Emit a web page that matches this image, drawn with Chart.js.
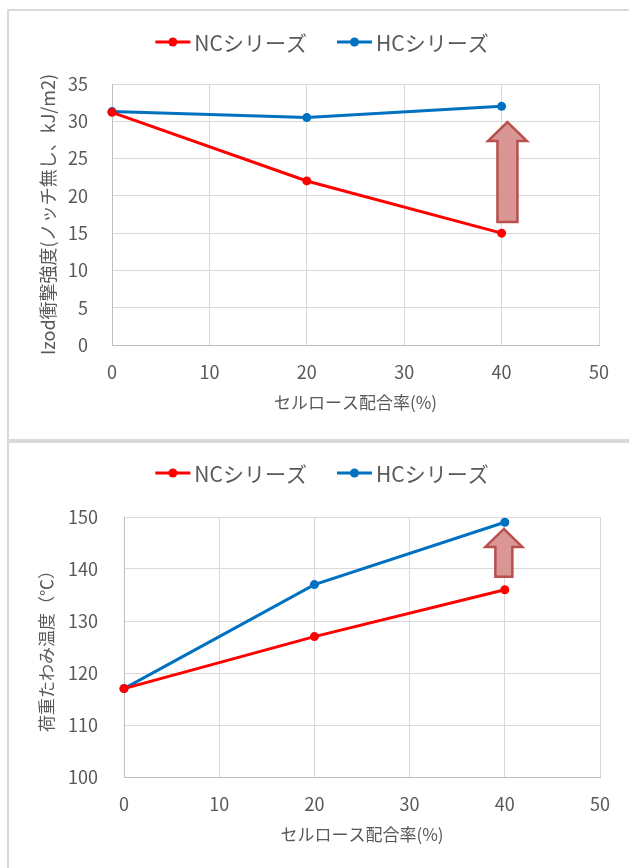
<!DOCTYPE html>
<html lang="ja">
<head>
<meta charset="utf-8">
<script src="https://cdn.jsdelivr.net/npm/chart.js@4.4.1/dist/chart.umd.min.js"></script>
<style>
  html, body { margin: 0; background: #fff; overflow: hidden; }
  .box { position: absolute; left: 7px; width: 640px; border: 2px solid #d9d9d9; box-sizing: border-box; }
  #box1 { top: 9px; height: 432px; }
  #box2 { top: 441px; height: 440px; }
  canvas { position: absolute; left: 0; top: 0; }
</style>
</head>
<body>
<div class="box" id="box1"><canvas id="izod" width="620" height="428"></canvas></div>
<div class="box" id="box2"><canvas id="hdt" width="620" height="436"></canvas></div>
<script>
var cellulose = [0, 20, 40];
var xTicks = [0, 10, 20, 30, 40, 50];
var seriesNames = ["NCシリーズ", "HCシリーズ"];

var izodNC = [31.2, 22, 15];
var izodHC = [31.3, 30.5, 32];
var izodTicks = [0, 5, 10, 15, 20, 25, 30, 35];

var hdtNC = [117, 127, 136];
var hdtHC = [117, 137, 149];
var hdtTicks = [100, 110, 120, 130, 140, 150];

var FONT = "'Noto Sans CJK JP', 'Noto Sans', sans-serif";
var GREY = "#595959";
var RED = "#ff0000";
var BLUE = "#0070c0";

// legend drawn like Excel: short line with a dot, then the name
var lineLegend = {
  id: "lineLegend",
  afterDraw: function(chart, args, o) {
    var ctx = chart.ctx;
    ctx.save();
    ctx.font = o.size + "px " + FONT;
    var items = chart.data.datasets.map(function(ds) {
      return { ds: ds, w: o.lineLen + o.gap + ctx.measureText(ds.label).width };
    });
    var total = o.spacing * (items.length - 1);
    items.forEach(function(it) { total += it.w; });
    var x = o.cx - total / 2;
    items.forEach(function(it) {
      ctx.strokeStyle = it.ds.borderColor;
      ctx.lineWidth = 3;
      ctx.beginPath();
      ctx.moveTo(x, o.y);
      ctx.lineTo(x + o.lineLen, o.y);
      ctx.stroke();
      ctx.fillStyle = it.ds.borderColor;
      ctx.beginPath();
      ctx.arc(x + o.lineLen / 2, o.y, 4.5, 0, Math.PI * 2);
      ctx.fill();
      ctx.fillStyle = GREY;
      ctx.textBaseline = "middle";
      ctx.textAlign = "left";
      ctx.fillText(it.ds.label, x + o.lineLen + o.gap, o.y + 1);
      x += it.w + o.spacing;
    });
    ctx.restore();
  }
};

// block arrow placed in data units
var upArrow = {
  id: "upArrow",
  afterDatasetsDraw: function(chart, args, o) {
    var ctx = chart.ctx;
    var cx = chart.scales.x.getPixelForValue(o.x);
    var tip = chart.scales.y.getPixelForValue(o.to);
    var base = chart.scales.y.getPixelForValue(o.from);
    var hs = o.shaft / 2, hh = o.head / 2;
    ctx.save();
    ctx.beginPath();
    ctx.moveTo(cx, tip);
    ctx.lineTo(cx + hh, tip + o.headLen);
    ctx.lineTo(cx + hs, tip + o.headLen);
    ctx.lineTo(cx + hs, base);
    ctx.lineTo(cx - hs, base);
    ctx.lineTo(cx - hs, tip + o.headLen);
    ctx.lineTo(cx - hh, tip + o.headLen);
    ctx.closePath();
    ctx.fillStyle = "rgb(217,150,148)";
    ctx.fill();
    ctx.lineWidth = 2.5;
    ctx.strokeStyle = "rgb(184,80,77)";
    ctx.stroke();
    ctx.restore();
  }
};

function series(label, color, ys) {
  return {
    label: label,
    data: cellulose.map(function(x, i) { return { x: x, y: ys[i] }; }),
    borderColor: color,
    backgroundColor: color,
    borderWidth: 3,
    pointRadius: 4.5,
    pointHoverRadius: 4.5,
    pointBorderWidth: 0,
    clip: false
  };
}

function makeChart(id, cfg) {
  return new Chart(document.getElementById(id), {
    type: "line",
    data: {
      datasets: [
        series(seriesNames[0], RED, cfg.nc),
        series(seriesNames[1], BLUE, cfg.hc)
      ]
    },
    options: {
      responsive: false,
      animation: false,
      layout: { padding: { left: 0, top: cfg.top, right: cfg.right, bottom: 0 } },
      scales: {
        x: {
          type: "linear",
          min: 0,
          max: 50,
          afterBuildTicks: function(s) { s.ticks = xTicks.map(function(v) { return { value: v }; }); },
          afterFit: function(s) { s.height = cfg.xHeight; },
          grid: { color: "#d9d9d9", drawTicks: false },
          border: { color: "#bfbfbf", width: 1 },
          ticks: { color: GREY, padding: 16, font: { family: FONT, size: 18 } },
          title: {
            display: true,
            text: "セルロース配合率(%)",
            color: GREY,
            font: { family: FONT, size: 17 },
            padding: { top: 0, bottom: cfg.xTitlePad }
          }
        },
        y: {
          min: cfg.ticks[0],
          max: cfg.ticks[cfg.ticks.length - 1],
          afterBuildTicks: function(s) { s.ticks = cfg.ticks.map(function(v) { return { value: v }; }); },
          afterFit: function(s) { s.width = cfg.yWidth; },
          grid: { color: "#d9d9d9", drawTicks: false },
          border: { color: "#bfbfbf", width: 1 },
          ticks: { color: GREY, padding: cfg.yTickPad, font: { family: FONT, size: 18 } },
          title: {
            display: true,
            text: cfg.yTitle,
            color: GREY,
            font: { family: FONT, size: cfg.yTitleSize },
            padding: { top: cfg.yTitlePad, bottom: 0 }
          }
        }
      },
      plugins: {
        legend: { display: false },
        tooltip: { enabled: false },
        lineLegend: { cx: 313, y: cfg.legendY, size: 21, lineLen: 35, gap: 4, spacing: 30 },
        upArrow: cfg.arrow
      }
    },
    plugins: [lineLegend, upArrow]
  });
}

makeChart("izod", {
  nc: izodNC,
  hc: izodHC,
  ticks: izodTicks,
  yTitle: "Izod衝撃強度(ノッチ無し、kJ/m2)",
  yTitleSize: 18,
  top: 73,
  right: 30,
  yWidth: 103,
  xHeight: 94,
  xTitlePad: 26,
  yTickPad: 24,
  yTitlePad: 28,
  legendY: 31,
  arrow: { x: 40.6, from: 16.5, to: 29.9, shaft: 20, head: 39, headLen: 19 }
});

makeChart("hdt", {
  nc: hdtNC,
  hc: hdtHC,
  ticks: hdtTicks,
  yTitle: "荷重たわみ温度（℃）",
  yTitleSize: 17,
  top: 74,
  right: 29,
  yWidth: 115,
  xHeight: 102,
  xTitlePad: 34,
  yTickPad: 26,
  yTitlePad: 27,
  legendY: 30,
  arrow: { x: 39.9, from: 138.5, to: 147.7, shaft: 17, head: 37, headLen: 18 }
});
</script>
</body>
</html>
